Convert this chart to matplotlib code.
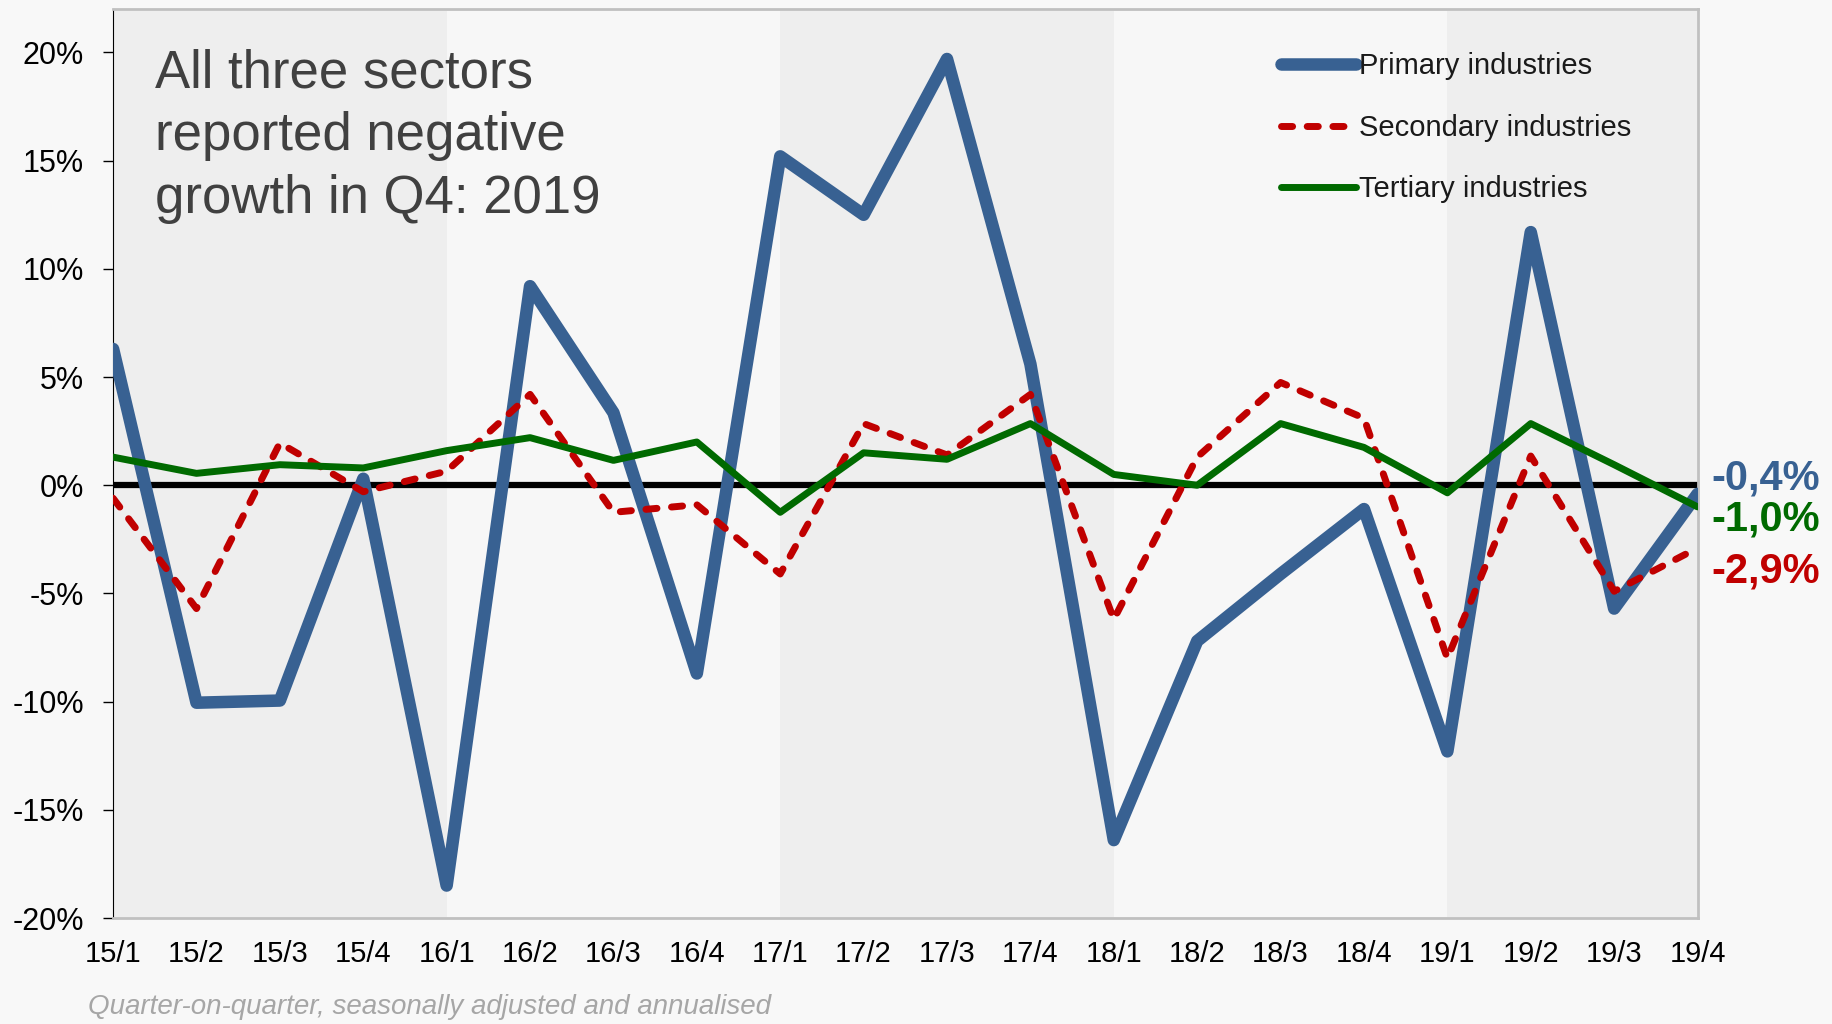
import matplotlib
matplotlib.use("Agg")
import matplotlib.pyplot as plt

plt.rcParams['font.family'] = ['Liberation Sans', 'DejaVu Sans']
plt.rcParams['axes.unicode_minus'] = False

quarters = ['15/1', '15/2', '15/3', '15/4', '16/1', '16/2', '16/3', '16/4', '17/1', '17/2',
            '17/3', '17/4', '18/1', '18/2', '18/3', '18/4', '19/1', '19/2', '19/3', '19/4']

primary = [6.3, -10.05, -9.95, 0.3, -18.5, 9.2, 3.35, -8.7, 15.2, 12.5,
           19.7, 5.6, -16.4, -7.2, -4.1, -1.1, -12.3, 11.7, -5.7, -0.4]
secondary = [-0.6, -5.7, 1.95, -0.3, 0.65, 4.2, -1.25, -0.9, -4.1, 2.85,
             1.4, 4.2, -6.2, 1.3, 4.75, 3.1, -8.0, 1.35, -4.9, -2.9]
tertiary = [1.3, 0.55, 0.95, 0.8, 1.6, 2.2, 1.15, 2.0, -1.25, 1.5,
            1.2, 2.85, 0.5, 0.0, 2.85, 1.75, -0.35, 2.85, 0.95, -1.0]

y_ticks = [20, 15, 10, 5, 0, -5, -10, -15, -20]
end_labels = ['-0,4%', '-1,0%', '-2,9%']

BLUE = '#386192'
RED = '#c00000'
GREEN = '#006a00'
BG = '#f8f8f8'
SHADE = '#eeeeee'

fig = plt.figure(figsize=(18.33, 10.24), dpi=100, facecolor=BG)
ax = fig.add_axes([0.0617, 0.1035, 0.8644, 0.8875])
ax.set_facecolor('#f7f7f7')

x = list(range(len(quarters)))

# alternating year bands
for start, end in [(0, 4), (8, 12), (16, 19)]:
    ax.axvspan(start, end, color=SHADE, lw=0, zorder=0)

ax.axhline(0, color='black', lw=4.5, zorder=1)

ax.plot(x, primary, color=BLUE, lw=9, solid_capstyle='round', solid_joinstyle='round',
        label='Primary industries', zorder=3)
ax.plot(x, secondary, color=RED, lw=5, linestyle=(0, (1.6, 2.1)), dash_capstyle='round',
        dash_joinstyle='round', label='Secondary industries', zorder=4)
ax.plot(x, tertiary, color=GREEN, lw=5, solid_capstyle='round', solid_joinstyle='round',
        label='Tertiary industries', zorder=5)

ax.set_xlim(0, 19)
ax.set_ylim(-20, 22.0)
ax.set_xticks(x)
ax.set_xticklabels(quarters, fontsize=21)
ax.set_yticks(y_ticks)
ax.set_yticklabels([f"{v}%" for v in y_ticks], fontsize=22)
ax.tick_params(axis='x', length=0, pad=16)
ax.tick_params(axis='y', length=7, width=1, pad=14, direction='out')

for side in ['top', 'right', 'bottom']:
    ax.spines[side].set_color('#c0c0c0')
    ax.spines[side].set_linewidth(2)
ax.spines['left'].set_color('black')

# end-of-series labels
offsets = [11, -9, -17]
for series, text, color, dy in zip([primary, tertiary, secondary], end_labels, [BLUE, GREEN, RED], offsets):
    ax.annotate(text, xy=(19, series[-1]), xytext=(88, dy), textcoords='offset points',
                ha='right', va='center', fontsize=30, fontweight='bold', color=color,
                annotation_clip=False)

leg = ax.legend(loc='upper left', bbox_to_anchor=(0.699, 0.949), bbox_transform=fig.transFigure,
                frameon=False, fontsize=21, handlelength=2.55, handletextpad=0.1,
                labelspacing=1.15, borderpad=0, borderaxespad=0)
for t in leg.get_texts():
    t.set_color('#1a1a1a')

fig.text(0.0845, 0.953, "All three sectors\nreported negative\ngrowth in Q4: 2019",
         fontsize=38, color='#404040', va='top', ha='left', linespacing=1.33)

fig.text(0.048, 0.017, "Quarter-on-quarter, seasonally adjusted and annualised",
         fontsize=20, style='italic', color='#a6a6a6', va='center', ha='left')

fig.savefig('out.png', dpi=100, facecolor=BG)
